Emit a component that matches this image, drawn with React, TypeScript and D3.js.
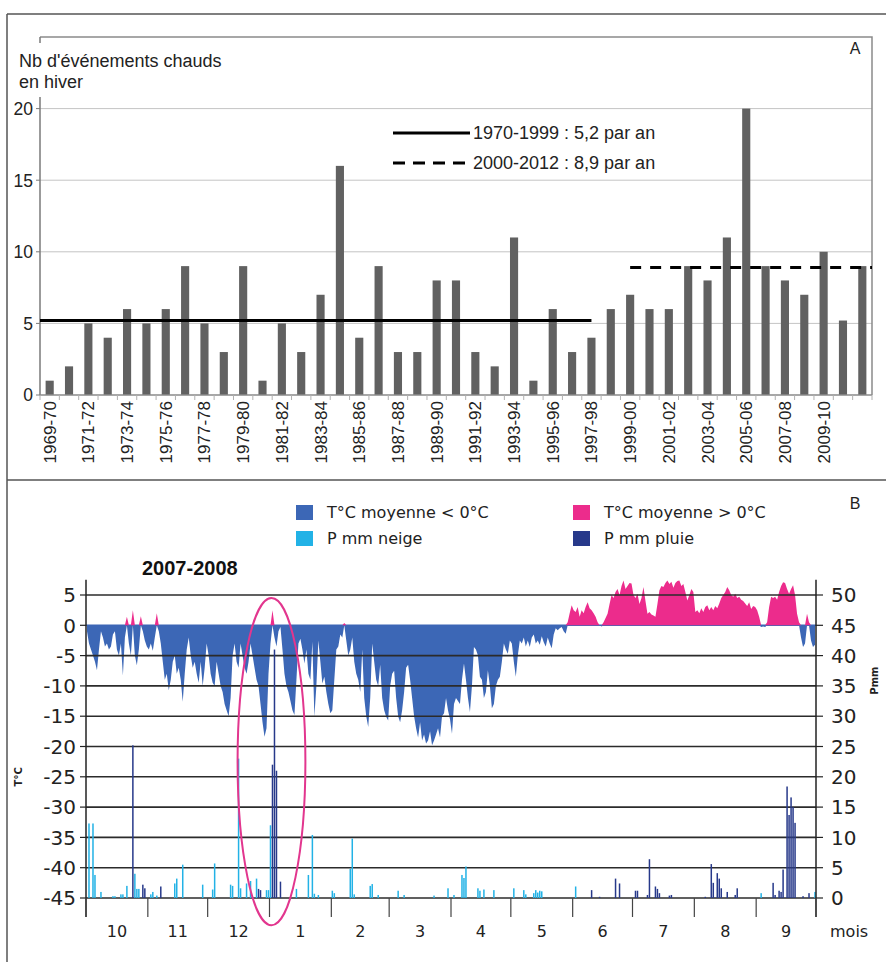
import { useEffect } from "react"
import * as d3 from "d3"

// ---------- Panel A : warm events per winter ----------
const winters = [
  "1969-70", "1970-71", "1971-72", "1972-73", "1973-74", "1974-75", "1975-76", "1976-77",
  "1977-78", "1978-79", "1979-80", "1980-81", "1981-82", "1982-83", "1983-84", "1984-85",
  "1985-86", "1986-87", "1987-88", "1988-89", "1989-90", "1990-91", "1991-92", "1992-93",
  "1993-94", "1994-95", "1995-96", "1996-97", "1997-98", "1998-99", "1999-00", "2000-01",
  "2001-02", "2002-03", "2003-04", "2004-05", "2005-06", "2006-07", "2007-08", "2008-09",
  "2009-10", "2010-11", "2011-12",
]
const warmEvents = [
  1, 2, 5, 4, 6, 5, 6, 9, 5, 3, 9, 1, 5, 3, 7, 16, 4, 9, 3, 3, 8, 8, 3, 2, 11, 1, 6, 3, 4, 6,
  7, 6, 6, 9, 8, 11, 20, 9, 8, 7, 10, 5.2, 9,
]
const winterTickLabels = [
  "1969-70", "1971-72", "1973-74", "1975-76", "1977-78", "1979-80", "1981-82", "1983-84",
  "1985-86", "1987-88", "1989-90", "1991-92", "1993-94", "1995-96", "1997-98", "1999-00",
  "2001-02", "2003-04", "2005-06", "2007-08", "2009-10",
]
const countTicks = [0, 5, 10, 15, 20]
const periodMeans = [
  { label: "1970-1999 : 5,2 par an", value: 5.2, from: "start", to: "1997-98", dash: "none" },
  { label: "2000-2012 : 8,9 par an", value: 8.9, from: "1999-00", to: "end", dash: "11,9" },
]

// ---------- Panel B : daily mean temperature 2007-2008 ----------
const seasonStart = Date.UTC(2007, 9, 1)
const seasonEnd = Date.UTC(2008, 9, 1)

const tempOct = [-1, -3, -4, -5, -6, -7.4, -4, -1, -2, -3.5, -3, -4, -3.5, -1.5, -1, -4, -5, -3, -8.3, -2, 1.4, -3, -5, 2.5, -5, -6.6, -4, 1.5, -1, -2.5, -3.5]
const tempNov = [-4, -3, -4.2, -2, 2, -1, -3, -6, -9, -8, -10.7, -9, -6, -5, -8, -7, -9, -12.6, -8, -4, -2, -5, -7, -6, -8, -9.5, -6, -10, -7, -3]
const tempDec = [-5, -8, -9.5, -10, -6, -8, -10, -11, -13, -14, -15, -12, -5, -3, -6, -7, -3, -5, -7, -8, -6, -3, -5, -7, -9, -10, -13, -16, -18.4, -17, -8]
const tempJan = [-3, 2.5, -2, -3.5, -1, -0.3, -4, -8, -10, -11, -12.5, -14, -14.8, -9, -3, -2.2, -4, -6.3, -4, -8, -9, -2.7, -15.1, -10, -2.5, -6, -9.6, -8.5, -11, -13, -14.5]
const tempFeb = [-14, -9, -4, -3.5, -1.5, -2, 0.4, -2.5, -5, -4, -2, -6, -8, -9, -11, -4, -12, -15, -16.8, -12, -3, -6, -9, -10, -6.5, -12, -14, -15.1, -15.7]
const tempMar = [-10, -8, -7.5, -12, -15, -16, -14, -11, -7, -6.5, -9, -12, -15, -17, -18.5, -16, -19, -18, -19.5, -19, -17.5, -19.8, -19, -18, -17, -18.5, -15, -14.5, -12, -14, -15.5]
const tempApr = [-17.9, -13, -12, -12.5, -13, -9, -6.3, -9, -12, -14.3, -10, -3.6, -4, -5, -8.5, -9, -12, -11, -7.4, -10, -13.7, -13, -10, -9, -8.5, -6, -3, -4, -4.7, -2.5]
const tempMay = [-3, -6, -8.5, -5, -2.5, -3, -2, -3.5, -2.5, -3.6, -2, -1.5, -3, -2.5, -3.2, -1.8, -2.8, -3.5, -2, -3, -3.8, -1.5, -0.5, -0.8, -0.5, -0.3, -1, -1.4, 0.5, 2, 3.3]
const tempJun = [2.5, 2.2, 3, 1.4, 2.5, 2, 3, 3.8, 2.8, 2.5, 2, 1.4, 0.5, 0, -0.2, 0.5, 1.2, 1.9, 3.5, 5, 4.5, 5.5, 6, 5, 6.5, 7.4, 6, 6.5, 7, 6.9]
const tempJul = [5, 4.5, 5.2, 3.5, 4.5, 6.3, 4, 1.9, 2.2, 1.8, 1.6, 1.4, 3.5, 5.8, 6.5, 6.3, 7, 7.4, 6.8, 7.2, 6.2, 7, 7.3, 7.4, 6.5, 6.8, 5.5, 4.1, 5, 6, 5.5]
const tempAug = [2.2, 2.5, 2, 2.8, 2.2, 3, 3.3, 2.5, 3, 2.5, 3.2, 2.8, 3.6, 4.5, 5, 5.5, 6.3, 5.8, 5, 4.7, 5.2, 4.5, 4.7, 4.2, 4, 3.6, 3.2, 3.8, 2.7, 3.2, 3]
const tempSep = [2.5, 1.4, -0.3, -0.2, -0.3, 0.5, 3, 4.7, 4.5, 4.7, 4.2, 5.5, 6.5, 7.1, 7, 6, 5.2, 6, 6.6, 5, 1.9, 0.5, -2, -3.6, -3, 1.9, 0.5, -2.5, -3.6, -3.2]
const tempMean = [
  ...tempOct, ...tempNov, ...tempDec, ...tempJan, ...tempFeb, ...tempMar,
  ...tempApr, ...tempMay, ...tempJun, ...tempJul, ...tempAug, ...tempSep,
]

// [day since 1 Oct 2007, mm]
const snowfall: [number, number][] = [
  [1, 12.3], [3, 12.3], [4, 3.8], [7, 1], [13, 0.3], [14, 0.3], [17, 0.6], [18, 0.6], [20, 2],
  [24, 4], [25, 1.5], [26, 1.5], [32, 0.6], [33, 1], [35, 0.4], [44, 2.4], [45, 3.2], [48, 5.5],
  [58, 2.2], [63, 1.4], [64, 5.7], [72, 2.2], [73, 2], [76, 23], [77, 1.6], [80, 2.4], [82, 2.8],
  [85, 3.2], [90, 1.3], [91, 1.3], [92, 12], [105, 1.5], [111, 3.8], [113, 10.4], [114, 0.7],
  [116, 0.5], [123, 1.2], [124, 0.8], [132, 4.8], [133, 9.8], [134, 0.6], [142, 2], [143, 2.3],
  [146, 0.5], [156, 1.2], [159, 0.5], [174, 0.4], [181, 1.6], [184, 0.5], [188, 3.8], [189, 3.3],
  [190, 5.2], [196, 1.6], [197, 1.2], [199, 1.4], [204, 1.3], [214, 1.6], [219, 1.3], [220, 0.6],
  [224, 0.8], [225, 1.3], [226, 0.9], [227, 1.2], [228, 1.1], [245, 1.9], [338, 0.8], [365, 1],
]
const rainfall: [number, number][] = [
  [23, 25.2], [28, 2.2], [29, 1.6], [37, 1.9], [86, 1.5], [87, 1.3], [93, 22], [94, 41], [95, 21],
  [97, 2.7], [253, 1.3], [257, 0.2], [265, 3.2], [267, 2.4], [275, 1.2], [276, 1.2], [281, 0.5],
  [282, 6.4], [285, 1.9], [286, 1.5], [287, 0.8], [292, 0.4], [293, 0.5], [310, 0.2], [313, 5.6],
  [314, 2.5], [316, 4.1], [317, 3.2], [318, 1.6], [321, 1], [325, 0.5], [326, 1.6], [344, 2.5],
  [345, 0.5], [347, 1.2], [348, 1], [349, 4.7], [351, 18.4], [352, 13.7], [353, 16.6], [354, 15],
  [355, 12.4], [359, 0.3], [362, 0.8],
]
const tempTicks = [5, 0, -5, -10, -15, -20, -25, -30, -35, -40, -45]
const precipTicks = [50, 45, 40, 35, 30, 25, 20, 15, 10, 5, 0]
const monthLabels = ["10", "11", "12", "1", "2", "3", "4", "5", "6", "7", "8", "9"]

const colors = {
  bar: "#616161",
  cold: "#3c67b6",
  warm: "#ec2c8c",
  snow: "#22b2e6",
  rain: "#27398a",
}
const legendB = [
  { label: "T°C moyenne < 0°C", color: colors.cold, col: 0, row: 0 },
  { label: "T°C moyenne > 0°C", color: colors.warm, col: 1, row: 0 },
  { label: "P mm neige", color: colors.snow, col: 0, row: 1 },
  { label: "P mm pluie", color: colors.rain, col: 1, row: 1 },
]

const fontA = "'Liberation Sans', Arial, sans-serif"
const fontB = "'DejaVu Sans', Verdana, sans-serif"

export default function App() {
  useEffect(() => {
    document.body.style.margin = "0"
  }, [])

  // Panel A scales
  const xA = d3.scaleBand<string>().domain(winters).range([40, 872]).paddingInner(0.58).paddingOuter(0.29)
  const yA = d3.scaleLinear().domain([0, 25]).range([395, 37])
  const stepA = xA.step()
  const centerA = (w: string) => (xA(w) ?? 0) + xA.bandwidth() / 2
  const [a0, a1] = xA.range()
  const meanX = (k: string) => (k === "start" ? a0 : k === "end" ? a1 : centerA(k))

  // Panel B scales
  const t0 = new Date(seasonStart)
  const xB = d3.scaleUtc().domain([t0, new Date(seasonEnd)]).range([86, 816])
  const yT = d3.scaleLinear().domain([-45, 5]).range([898, 595])
  const yP = d3.scaleLinear().domain([0, 50]).range([898, 595])
  const dayX = (d: number) => xB(d3.utcDay.offset(t0, d))
  const dayW = dayX(1) - dayX(0)
  const barW = dayW * 0.75
  const months = [...d3.utcMonth.range(t0, new Date(seasonEnd)), new Date(seasonEnd)]

  const coldArea = d3
    .area<number>()
    .x((_, i) => dayX(i) + dayW / 2)
    .y0(yT(0))
    .y1((t) => yT(Math.min(t, 0)))
  const warmArea = d3
    .area<number>()
    .x((_, i) => dayX(i) + dayW / 2)
    .y0(yT(0))
    .y1((t) => yT(Math.max(t, 0)))

  const plotTopB = yT(7.5)
  const axisBottomB = 917
  const eventDay = 93.5

  return (
    <div style={{ position: "absolute", left: 0, top: 0 }}>
      <svg width={886} height={962} style={{ display: "block", background: "#fff" }}>
        {/* outer frame */}
        <g stroke="#555" strokeWidth={1.5} fill="none">
          <line x1={7} x2={886} y1={14} y2={14} />
          <line x1={7} x2={7} y1={14} y2={962} />
          <line x1={7} x2={886} y1={480} y2={480} />
        </g>

        {/* ---------- Panel A ---------- */}
        <g fontFamily={fontA}>
          {countTicks.filter((v) => v > 0).map((v) => (
            <line key={v} x1={a0} x2={a1} y1={yA(v)} y2={yA(v)} stroke="#c4c4c4" strokeWidth={1} />
          ))}
          {/* plot box */}
          <path d={`M${a0},${yA(25)}H${a1}V${yA(0)}`} fill="none" stroke="#8a8a8a" strokeWidth={1.5} />
          <line x1={a0} x2={a0} y1={yA(25)} y2={yA(0)} stroke="#7a7a7a" strokeWidth={1.5} />

          {winters.map((w, i) => (
            <rect
              key={w}
              x={xA(w)}
              y={yA(warmEvents[i])}
              width={xA.bandwidth()}
              height={yA(0) - yA(warmEvents[i])}
              fill={colors.bar}
            />
          ))}

          {/* x axis */}
          <line x1={a0} x2={a1} y1={yA(0)} y2={yA(0)} stroke="#8a8a8a" strokeWidth={1.5} />
          {[...winters.map((w) => centerA(w) - stepA / 2), a1].map((x, i) => (
            <line key={i} x1={x} x2={x} y1={yA(0)} y2={yA(0) + 5} stroke="#b0b0b0" strokeWidth={1} />
          ))}
          {winterTickLabels.map((w) => (
            <text
              key={w}
              transform={`translate(${centerA(w) + 6},${yA(0) + 6}) rotate(-90)`}
              textAnchor="end"
              fontSize={17}
              fill="#222"
            >
              {w}
            </text>
          ))}

          {/* y axis */}
          {countTicks.map((v) => (
            <g key={v}>
              <line x1={a0 - 4} x2={a0} y1={yA(v)} y2={yA(v)} stroke="#7a7a7a" />
              <text x={33} y={yA(v)} dy="0.36em" textAnchor="end" fontSize={17.5} fill="#222">
                {v}
              </text>
            </g>
          ))}

          {/* title with white background */}
          <rect x={14} y={43} width={214} height={54} fill="#fff" />
          <text x={19} y={67} fontSize={18} fill="#222">Nb d'événements chauds</text>
          <text x={19} y={88} fontSize={18} fill="#222">en hiver</text>
          <text x={855} y={54} textAnchor="middle" fontSize={16} fill="#222">A</text>

          {/* period means */}
          {periodMeans.map((m) => (
            <line
              key={m.label}
              x1={meanX(m.from)}
              x2={meanX(m.to)}
              y1={yA(m.value)}
              y2={yA(m.value)}
              stroke="#000"
              strokeWidth={3}
              strokeDasharray={m.dash}
            />
          ))}

          {/* legend */}
          {periodMeans.map((m, i) => (
            <g key={m.label} transform={`translate(393,${133 + i * 30})`}>
              <line x1={0} x2={77} y1={0} y2={0} stroke="#000" strokeWidth={3} strokeDasharray={m.dash === "none" ? "none" : "12,8"} />
              <text x={80} y={0} dy="0.36em" fontSize={18} fill="#222">{m.label}</text>
            </g>
          ))}
        </g>

        {/* ---------- Panel B ---------- */}
        <g fontFamily={fontB}>
          <text x={855} y={509} textAnchor="middle" fontSize={16} fontFamily={fontA} fill="#222">B</text>

          {legendB.map((l) => {
            const lx = l.col === 0 ? 296 : 573
            const ly = 505 + l.row * 26
            return (
              <g key={l.label}>
                <rect x={lx} y={ly} width={17} height={15} fill={l.color} />
                <text x={lx + 31} y={ly + 7.5} dy="0.36em" fontSize={16} fill="#222">{l.label}</text>
              </g>
            )
          })}

          <text x={142} y={575} fontFamily={fontA} fontWeight="bold" fontSize={20} fill="#111">2007-2008</text>

          {/* zero line below the areas */}
          <line x1={86} x2={816} y1={yT(0)} y2={yT(0)} stroke={colors.cold} strokeWidth={1.5} />
          <path d={coldArea(tempMean) ?? ""} fill={colors.cold} />
          <path d={warmArea(tempMean) ?? ""} fill={colors.warm} />

          {tempTicks.filter((v) => v !== 0).map((v) => (
            <line key={v} x1={86} x2={816} y1={yT(v)} y2={yT(v)} stroke="#2b2b2b" strokeWidth={1.6} />
          ))}

          {snowfall.map(([d, mm]) => (
            <rect key={`s${d}`} x={dayX(d) + (dayW - barW) / 2} y={yP(mm)} width={barW} height={yP(0) - yP(mm)} fill={colors.snow} />
          ))}
          {rainfall.map(([d, mm]) => (
            <rect key={`r${d}`} x={dayX(d) + (dayW - barW) / 2} y={yP(mm)} width={barW} height={yP(0) - yP(mm)} fill={colors.rain} />
          ))}

          {/* axes */}
          <line x1={86} x2={86} y1={plotTopB} y2={axisBottomB} stroke="#222" strokeWidth={1.5} />
          <line x1={816} x2={816} y1={plotTopB} y2={axisBottomB} stroke="#222" strokeWidth={1.5} />
          {tempTicks.map((v) => (
            <g key={v}>
              <line x1={80} x2={86} y1={yT(v)} y2={yT(v)} stroke="#222" strokeWidth={1.2} />
              <text x={76} y={yT(v)} dy="0.36em" textAnchor="end" fontSize={20} fill="#222">{v}</text>
            </g>
          ))}
          {precipTicks.map((v) => (
            <g key={v}>
              <line x1={816} x2={823} y1={yP(v)} y2={yP(v)} stroke="#222" strokeWidth={1.2} />
              <text x={831} y={yP(v)} dy="0.36em" fontSize={20} fill="#222">{v}</text>
            </g>
          ))}
          {months.map((m, i) => (
            <line key={i} x1={xB(m)} x2={xB(m)} y1={yT(-45)} y2={axisBottomB} stroke="#444" strokeWidth={1.2} />
          ))}
          {monthLabels.map((lab, i) => (
            <text key={lab} x={(xB(months[i]) + xB(months[i + 1])) / 2} y={937} textAnchor="middle" fontSize={16} fill="#222">
              {lab}
            </text>
          ))}
          <text x={830} y={937} fontSize={16} fill="#222">mois</text>

          <text transform={`translate(22,${yT(-25)}) rotate(-90)`} textAnchor="middle" fontSize={10} fontWeight="bold" fill="#222">T°C</text>
          <text transform={`translate(878,${yP(40) + 25}) rotate(-90)`} textAnchor="middle" fontSize={10} fontWeight="bold" fill="#222">Pmm</text>

          {/* warm event annotation */}
          <ellipse
            cx={dayX(eventDay)}
            cy={(yT(4.5) + yT(-49.5)) / 2}
            rx={dayW * 17}
            ry={(yT(-49.5) - yT(4.5)) / 2}
            fill="none"
            stroke="#e2368e"
            strokeWidth={2}
          />
        </g>
      </svg>
    </div>
  )
}
